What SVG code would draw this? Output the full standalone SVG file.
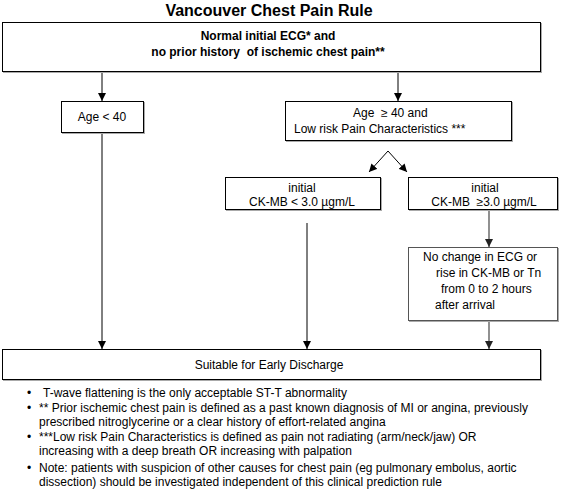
<svg xmlns="http://www.w3.org/2000/svg" width="562" height="491" viewBox="0 0 562 491">
<style>
text{font-family:"Liberation Sans",Arial,sans-serif;fill:#000;white-space:pre}
.t{font-size:16px;font-weight:bold;text-anchor:middle}
.b{font-size:12px;font-weight:bold;text-anchor:middle}
.n{font-size:12px;text-anchor:middle}
.s{font-size:12px}
.note{font-size:12px}
.box{fill:#fff;stroke:#000;stroke-width:1}
.gbox{fill:#fff;stroke:#555;stroke-width:1}
.sh{fill:#fff;stroke:#aaa;stroke-width:1}
.ln{stroke:#000;stroke-width:1;fill:none}
.gln{stroke:#555;stroke-width:1.3;fill:none}
</style>
<defs>
<marker id="ah" viewBox="0 0 10 10" refX="10" refY="5" markerWidth="8" markerHeight="8" markerUnits="userSpaceOnUse" orient="auto"><path d="M0,0 L10,5 L0,10 z" fill="#000"/></marker>
<marker id="gah" viewBox="0 0 10 10" refX="10" refY="5" markerWidth="8" markerHeight="8" markerUnits="userSpaceOnUse" orient="auto"><path d="M0,0 L10,5 L0,10 z" fill="#222"/></marker>
</defs>
<rect width="562" height="491" fill="#fff"/>
<text class="t" x="269" y="16">Vancouver Chest Pain Rule</text>

<g id="connectors">
<line class="ln" x1="102" y1="72" x2="102" y2="101" marker-end="url(#ah)"/>
<line class="ln" x1="398" y1="72" x2="398" y2="101" marker-end="url(#ah)"/>
<line class="ln" x1="388" y1="151" x2="369" y2="172" marker-end="url(#ah)"/>
<line class="ln" x1="388" y1="151" x2="407" y2="172" marker-end="url(#ah)"/>
<line class="gln" x1="489" y1="211" x2="489" y2="247" marker-end="url(#gah)"/>
<line class="ln" x1="102" y1="134" x2="102" y2="349" marker-end="url(#ah)"/>
<line class="ln" x1="307" y1="223" x2="307" y2="349" marker-end="url(#ah)"/>
<line class="gln" x1="489" y1="322" x2="489" y2="349" marker-end="url(#gah)"/>
</g>

<g id="n-top">
<rect class="sh" x="3.5" y="23.5" width="538" height="49"/>
<rect class="box" x="2.5" y="22.5" width="538" height="49"/>
<text class="b" x="268" y="40">Normal initial ECG* and</text>
<text class="b" x="268" y="56">no prior history  of ischemic chest pain**</text>
</g>

<g id="n-age-lt40">
<rect class="sh" x="62.5" y="102.5" width="82" height="31"/>
<rect class="box" x="61.5" y="101.5" width="82" height="31"/>
<text class="n" x="102" y="121">Age &lt; 40</text>
</g>

<g id="n-age-ge40">
<rect class="sh" x="286.5" y="102.5" width="226" height="39"/>
<rect class="box" x="285.5" y="101.5" width="226" height="39"/>
<text class="s" x="353" y="117">Age  ≥ 40 and</text>
<text class="s" x="294" y="133">Low risk Pain Characteristics ***</text>
</g>

<g id="n-ckmb-low">
<rect class="sh" x="226.5" y="178.5" width="155" height="32"/>
<rect class="box" x="225.5" y="177.5" width="155" height="32"/>
<text class="n" x="302" y="192">initial</text>
<text class="n" x="302" y="206">CK-MB &lt; 3.0 µgm/L</text>
</g>

<g id="n-ckmb-high">
<rect class="sh" x="409.5" y="178.5" width="149" height="32"/>
<rect class="box" x="408.5" y="177.5" width="149" height="32"/>
<text class="n" x="485" y="192">initial</text>
<text class="n" x="484" y="206">CK-MB  ≥3.0 µgm/L</text>
</g>

<g id="n-nochange">
<rect class="sh" x="409.5" y="248.5" width="149" height="73"/>
<rect class="gbox" x="408.5" y="247.5" width="149" height="73"/>
<text class="s" x="423" y="261">No change in ECG or</text>
<text class="s" x="436" y="277">rise in CK-MB or Tn</text>
<text class="s" x="441" y="293">from 0 to 2 hours</text>
<text class="s" x="435" y="309">after arrival</text>
</g>

<g id="n-discharge">
<rect class="sh" x="3.5" y="350.5" width="538" height="30"/>
<rect class="box" x="2.5" y="349.5" width="538" height="30"/>
<text class="n" x="269" y="369">Suitable for Early Discharge</text>
</g>

<g id="notes">
<text class="note" x="27" y="397">•</text>
<text class="note" x="43" y="397">T-wave flattening is the only acceptable ST-T abnormality</text>
<text class="note" x="27" y="412">•</text>
<text class="note" x="39" y="412">** Prior ischemic chest pain is defined as a past known diagnosis of MI or angina, previously</text>
<text class="note" x="39" y="426">prescribed nitroglycerine or a clear history of effort-related angina</text>
<text class="note" x="27" y="441">•</text>
<text class="note" x="39" y="441">***Low risk Pain Characteristics is defined as pain not radiating (arm/neck/jaw) OR</text>
<text class="note" x="39" y="455">increasing with a deep breath OR increasing with palpation</text>
<text class="note" x="27" y="472">•</text>
<text class="note" x="39" y="472">Note: patients with suspicion of other causes for chest pain (eg pulmonary embolus, aortic</text>
<text class="note" x="39" y="486">dissection) should be investigated independent of this clinical prediction rule</text>
</g>
</svg>
